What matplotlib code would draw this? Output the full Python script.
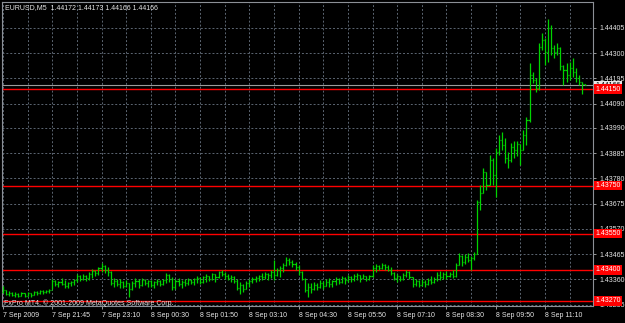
import matplotlib
matplotlib.use("Agg")
import numpy as np
import matplotlib.pyplot as plt
from matplotlib.transforms import blended_transform_factory

plt.rcParams['font.family'] = ['Liberation Sans', 'DejaVu Sans']

# EURUSD M5 bars, 7 Sep 2009 evening -> 8 Sep 2009 ~11:45
opens = [
    1.43307, 1.43316, 1.43299, 1.43303, 1.43295, 1.43299, 1.43291, 1.43303, 1.43291, 1.43303, 1.43295, 1.43307, 1.43303, 1.43312, 1.43307, 1.43312,
    1.43316, 1.43353, 1.43341, 1.43349, 1.43341, 1.43332, 1.43345, 1.43349, 1.43357, 1.43374, 1.43361, 1.43374, 1.43366, 1.43382, 1.43395, 1.43386,
    1.43407, 1.43415, 1.43399, 1.43390, 1.43345, 1.43353, 1.43341, 1.43349, 1.43332, 1.43345, 1.43320, 1.43345, 1.43353, 1.43336, 1.43357, 1.43345,
    1.43353, 1.43336, 1.43349, 1.43353, 1.43341, 1.43357, 1.43378, 1.43361, 1.43328, 1.43353, 1.43341, 1.43349, 1.43345, 1.43357, 1.43349, 1.43361,
    1.43366, 1.43349, 1.43370, 1.43374, 1.43361, 1.43382, 1.43370, 1.43390, 1.43382, 1.43374, 1.43366, 1.43370, 1.43353, 1.43324, 1.43336, 1.43320,
    1.43345, 1.43353, 1.43361, 1.43366, 1.43374, 1.43370, 1.43382, 1.43378, 1.43390, 1.43378, 1.43399, 1.43407, 1.43420, 1.43440, 1.43432, 1.43424,
    1.43411, 1.43390, 1.43361, 1.43316, 1.43328, 1.43320, 1.43336, 1.43328, 1.43345, 1.43332, 1.43349, 1.43341, 1.43353, 1.43361, 1.43349, 1.43366,
    1.43357, 1.43370, 1.43361, 1.43374, 1.43378, 1.43366, 1.43374, 1.43361, 1.43374, 1.43407, 1.43415, 1.43407, 1.43420, 1.43411, 1.43399, 1.43386,
    1.43366, 1.43374, 1.43361, 1.43378, 1.43390, 1.43370, 1.43341, 1.43353, 1.43336, 1.43349, 1.43341, 1.43357, 1.43349, 1.43361, 1.43378, 1.43370,
    1.43382, 1.43374, 1.43382, 1.43374, 1.43420, 1.43457, 1.43432, 1.43453, 1.43440, 1.43449, 1.43465, 1.43681, 1.43719, 1.43806, 1.43752, 1.43856,
    1.43794, 1.43889, 1.43939, 1.43918, 1.43864, 1.43856, 1.43910, 1.43898, 1.43923, 1.43898, 1.43960, 1.44022, 1.44209, 1.44189, 1.44155, 1.44326,
    1.44355, 1.44305, 1.44405, 1.44322, 1.44305, 1.44322, 1.44247, 1.44230, 1.44209, 1.44239, 1.44222, 1.44197, 1.44180, 1.44172,
]
highs = [
    1.43332, 1.43316, 1.43312, 1.43307, 1.43307, 1.43303, 1.43307, 1.43303, 1.43307, 1.43303, 1.43312, 1.43312, 1.43316, 1.43316, 1.43316, 1.43320,
    1.43361, 1.43357, 1.43353, 1.43366, 1.43357, 1.43349, 1.43353, 1.43361, 1.43382, 1.43378, 1.43382, 1.43378, 1.43390, 1.43403, 1.43399, 1.43411,
    1.43428, 1.43420, 1.43411, 1.43395, 1.43366, 1.43361, 1.43361, 1.43353, 1.43357, 1.43345, 1.43353, 1.43366, 1.43361, 1.43366, 1.43361, 1.43357,
    1.43357, 1.43353, 1.43361, 1.43357, 1.43361, 1.43386, 1.43382, 1.43370, 1.43361, 1.43366, 1.43357, 1.43361, 1.43366, 1.43361, 1.43366, 1.43374,
    1.43370, 1.43374, 1.43382, 1.43374, 1.43386, 1.43382, 1.43395, 1.43399, 1.43390, 1.43382, 1.43378, 1.43374, 1.43361, 1.43349, 1.43341, 1.43353,
    1.43361, 1.43370, 1.43374, 1.43378, 1.43386, 1.43390, 1.43386, 1.43399, 1.43440, 1.43407, 1.43415, 1.43428, 1.43453, 1.43449, 1.43440, 1.43432,
    1.43420, 1.43395, 1.43366, 1.43345, 1.43345, 1.43349, 1.43345, 1.43357, 1.43353, 1.43361, 1.43366, 1.43357, 1.43370, 1.43366, 1.43374, 1.43370,
    1.43378, 1.43374, 1.43382, 1.43386, 1.43378, 1.43382, 1.43374, 1.43378, 1.43420, 1.43424, 1.43420, 1.43428, 1.43424, 1.43420, 1.43411, 1.43390,
    1.43382, 1.43374, 1.43386, 1.43399, 1.43395, 1.43370, 1.43361, 1.43357, 1.43361, 1.43357, 1.43366, 1.43374, 1.43370, 1.43390, 1.43395, 1.43390,
    1.43395, 1.43390, 1.43399, 1.43428, 1.43469, 1.43461, 1.43465, 1.43469, 1.43457, 1.43474, 1.43690, 1.43752, 1.43823, 1.43806, 1.43877, 1.43864,
    1.43906, 1.43960, 1.43972, 1.43948, 1.43889, 1.43927, 1.43935, 1.43935, 1.43923, 1.43981, 1.44035, 1.44259, 1.44222, 1.44197, 1.44342, 1.44384,
    1.44363, 1.44442, 1.44417, 1.44334, 1.44342, 1.44326, 1.44251, 1.44259, 1.44263, 1.44280, 1.44239, 1.44209, 1.44180, 1.44173,
]
lows = [
    1.43303, 1.43295, 1.43291, 1.43291, 1.43287, 1.43287, 1.43291, 1.43287, 1.43291, 1.43287, 1.43295, 1.43295, 1.43299, 1.43299, 1.43303, 1.43303,
    1.43320, 1.43332, 1.43328, 1.43336, 1.43324, 1.43324, 1.43332, 1.43336, 1.43349, 1.43353, 1.43357, 1.43353, 1.43357, 1.43366, 1.43374, 1.43378,
    1.43390, 1.43386, 1.43374, 1.43336, 1.43328, 1.43332, 1.43324, 1.43324, 1.43328, 1.43287, 1.43316, 1.43328, 1.43324, 1.43332, 1.43336, 1.43328,
    1.43328, 1.43324, 1.43336, 1.43332, 1.43336, 1.43345, 1.43349, 1.43316, 1.43320, 1.43332, 1.43324, 1.43332, 1.43336, 1.43341, 1.43336, 1.43345,
    1.43341, 1.43345, 1.43349, 1.43353, 1.43357, 1.43349, 1.43366, 1.43374, 1.43361, 1.43357, 1.43349, 1.43345, 1.43316, 1.43299, 1.43307, 1.43320,
    1.43328, 1.43345, 1.43349, 1.43353, 1.43357, 1.43361, 1.43357, 1.43366, 1.43357, 1.43374, 1.43370, 1.43390, 1.43415, 1.43420, 1.43411, 1.43399,
    1.43378, 1.43357, 1.43307, 1.43287, 1.43303, 1.43316, 1.43316, 1.43324, 1.43320, 1.43332, 1.43328, 1.43328, 1.43336, 1.43341, 1.43345, 1.43341,
    1.43349, 1.43349, 1.43353, 1.43357, 1.43349, 1.43361, 1.43353, 1.43357, 1.43370, 1.43390, 1.43399, 1.43403, 1.43399, 1.43395, 1.43378, 1.43357,
    1.43349, 1.43353, 1.43357, 1.43370, 1.43361, 1.43328, 1.43332, 1.43328, 1.43332, 1.43328, 1.43336, 1.43341, 1.43345, 1.43353, 1.43357, 1.43361,
    1.43361, 1.43370, 1.43366, 1.43370, 1.43420, 1.43415, 1.43424, 1.43432, 1.43399, 1.43440, 1.43465, 1.43648, 1.43719, 1.43731, 1.43752, 1.43752,
    1.43702, 1.43877, 1.43898, 1.43844, 1.43823, 1.43848, 1.43864, 1.43873, 1.43835, 1.43898, 1.43918, 1.44014, 1.44176, 1.44139, 1.44147, 1.44313,
    1.44251, 1.44263, 1.44293, 1.44280, 1.44293, 1.44230, 1.44168, 1.44180, 1.44189, 1.44201, 1.44180, 1.44168, 1.44130, 1.44166,
]
closes = [
    1.43316, 1.43299, 1.43303, 1.43295, 1.43299, 1.43291, 1.43303, 1.43291, 1.43303, 1.43295, 1.43307, 1.43303, 1.43312, 1.43307, 1.43312, 1.43316,
    1.43353, 1.43341, 1.43349, 1.43341, 1.43332, 1.43345, 1.43349, 1.43357, 1.43374, 1.43361, 1.43374, 1.43366, 1.43382, 1.43395, 1.43386, 1.43407,
    1.43415, 1.43399, 1.43390, 1.43345, 1.43353, 1.43341, 1.43349, 1.43332, 1.43345, 1.43320, 1.43345, 1.43353, 1.43336, 1.43357, 1.43345, 1.43353,
    1.43336, 1.43349, 1.43353, 1.43341, 1.43357, 1.43378, 1.43361, 1.43328, 1.43353, 1.43341, 1.43349, 1.43345, 1.43357, 1.43349, 1.43361, 1.43366,
    1.43349, 1.43370, 1.43374, 1.43361, 1.43382, 1.43370, 1.43390, 1.43382, 1.43374, 1.43366, 1.43370, 1.43353, 1.43324, 1.43336, 1.43320, 1.43345,
    1.43353, 1.43361, 1.43366, 1.43374, 1.43370, 1.43382, 1.43378, 1.43390, 1.43378, 1.43399, 1.43407, 1.43420, 1.43440, 1.43432, 1.43424, 1.43411,
    1.43390, 1.43361, 1.43316, 1.43328, 1.43320, 1.43336, 1.43328, 1.43345, 1.43332, 1.43349, 1.43341, 1.43353, 1.43361, 1.43349, 1.43366, 1.43357,
    1.43370, 1.43361, 1.43374, 1.43378, 1.43366, 1.43374, 1.43361, 1.43374, 1.43407, 1.43415, 1.43407, 1.43420, 1.43411, 1.43399, 1.43386, 1.43366,
    1.43374, 1.43361, 1.43378, 1.43390, 1.43370, 1.43341, 1.43353, 1.43336, 1.43349, 1.43341, 1.43357, 1.43349, 1.43361, 1.43378, 1.43370, 1.43382,
    1.43374, 1.43382, 1.43374, 1.43420, 1.43457, 1.43432, 1.43453, 1.43440, 1.43449, 1.43465, 1.43681, 1.43719, 1.43806, 1.43752, 1.43856, 1.43794,
    1.43889, 1.43939, 1.43918, 1.43864, 1.43856, 1.43910, 1.43898, 1.43923, 1.43898, 1.43960, 1.44022, 1.44209, 1.44189, 1.44155, 1.44326, 1.44355,
    1.44305, 1.44405, 1.44322, 1.44305, 1.44322, 1.44247, 1.44230, 1.44209, 1.44239, 1.44222, 1.44197, 1.44180, 1.44172, 1.44166,
]

time_labels = ["7 Sep 2009", "7 Sep 21:45", "7 Sep 23:10", "8 Sep 00:30", "8 Sep 01:50", "8 Sep 03:10",
               "8 Sep 04:30", "8 Sep 05:50", "8 Sep 07:10", "8 Sep 08:30", "8 Sep 09:50", "8 Sep 11:10"]
price_ticks = [1.44405, 1.44300, 1.44195, 1.44090, 1.43990, 1.43885, 1.43780,
               1.43675, 1.43570, 1.43465, 1.43360, 1.43255]
levels = [1.44150, 1.43750, 1.43550, 1.43400, 1.43270]
bid = 1.44166
header = "EURUSD,M5  1.44172 1.44173 1.44166 1.44166"
footer = "FxPro MT4, \u00a9 2001-2009 MetaQuotes Software Corp."

bar_color = '#00d400'
grid_color = '#5c6672'
text_color = '#e6e6e6'

fig = plt.figure(figsize=(6.25, 3.23), dpi=100, facecolor='black')
ax = fig.add_axes([2/625, 17/323, 591/625, 304/323])
ax.set_facecolor('black')

idx = np.arange(len(closes))

# grid
for p in price_ticks:
    ax.axhline(p, color=grid_color, lw=0.7, ls=(0, (2, 2)), zorder=1)
for g in range(0, len(closes), 8):
    ax.axvline(g, color=grid_color, lw=0.7, ls=(0, (2, 2)), zorder=1)

# levels and bid line
for lv in levels:
    ax.axhline(lv, color='#ff0000', lw=1.0, zorder=2)
ax.axhline(bid, color='#9a9a9a', lw=0.8, zorder=2)

# ohlc bars
ax.vlines(idx, lows, highs, color=bar_color, lw=0.9, zorder=3)
ax.hlines(opens, idx - 0.35, idx, color=bar_color, lw=0.9, zorder=3)
ax.hlines(closes, idx, idx + 0.35, color=bar_color, lw=0.9, zorder=3)

ax.set_xlim(-0.33, 191.6)
ax.set_ylim(1.43249, 1.44513)

ax.yaxis.tick_right()
ax.set_yticks(price_ticks)
ax.set_yticklabels(['%.5f' % p for p in price_ticks])
ax.set_xticks(idx[::16][:len(time_labels)])
ax.set_xticklabels(time_labels)
for lab in ax.get_xticklabels():
    lab.set_ha('left')
ax.tick_params(colors='#9a9a9a', labelcolor=text_color, labelsize=5, length=2.5, width=0.7, pad=2)
for s in ax.spines.values():
    s.set_color('#8c9096')
    s.set_linewidth(0.8)

trans = blended_transform_factory(ax.transAxes, ax.transData)
ax.text(1.004, bid, '%.5f' % bid, transform=trans, va='center', ha='left', fontsize=5,
        color='black', zorder=5, clip_on=False,
        bbox=dict(boxstyle='square,pad=0.2', fc='#e8e8e8', ec='none'))
for lv in levels:
    ax.text(1.004, lv, '%.5f' % lv, transform=trans, va='center', ha='left', fontsize=5,
            color='white', zorder=6, clip_on=False,
            bbox=dict(boxstyle='square,pad=0.2', fc='#ff0000', ec='none'))

fig.text(5/625, 1 - 8/323, header, color=text_color, fontsize=5, va='center', ha='left')
ax.text(0.004, 1.43262, footer, color=text_color, fontsize=5, va='center', ha='left',
        transform=trans, zorder=7)

fig.savefig('out.png', dpi=100, facecolor='black')
